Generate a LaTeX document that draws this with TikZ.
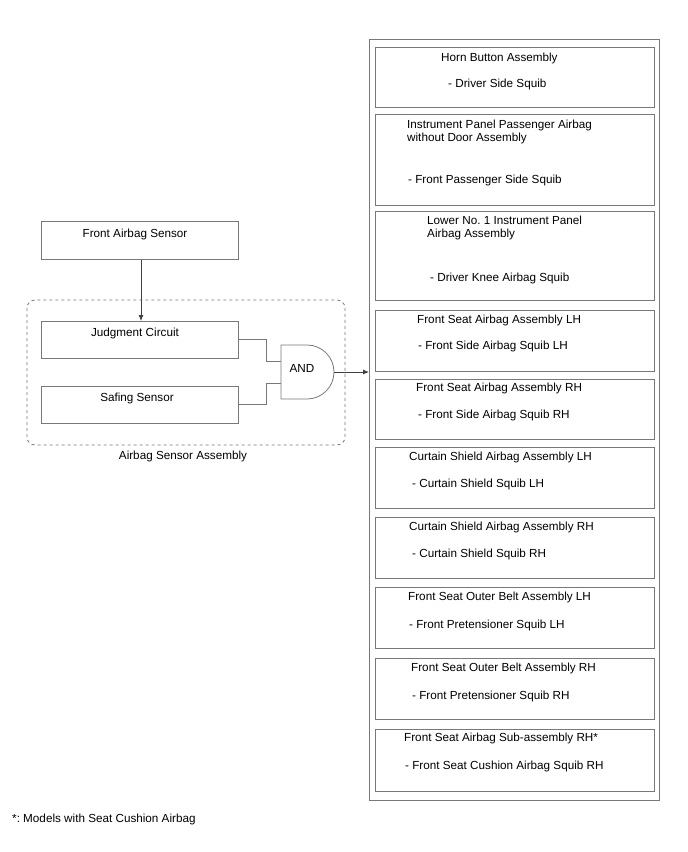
\documentclass[tikz,border=0pt]{standalone}
\usepackage{fontspec}
\setmainfont{Liberation Sans}
\usetikzlibrary{arrows.meta}
\definecolor{linecol}{RGB}{120,120,120}
\frenchspacing
\begin{document}
\begin{tikzpicture}[x=1pt,y=-1pt,
  box/.style={draw=linecol, line width=0.8pt, rectangle, inner sep=0pt, anchor=north west},
  txt/.style={anchor=base west, inner sep=0pt, font=\fontsize{11.7}{13}\selectfont},
  ctxt/.style={anchor=base, inner sep=0pt, font=\fontsize{11.7}{13}\selectfont},
  wire/.style={draw=linecol, line width=0.8pt},
  arr/.style={wire, -{Latex[length=6pt,width=5pt]}, draw=black!75}]
\useasboundingbox (0,0) rectangle (688,852);

% outer column
\node[box, minimum width=290pt, minimum height=761pt] (outer) at (369,39) {};
% inner boxes
\node[box, minimum width=279.5pt, minimum height=60pt] (b1) at (374.5,47) {};
\node[box, minimum width=279.5pt, minimum height=91pt] (b2) at (374.5,114) {};
\node[box, minimum width=279.5pt, minimum height=89pt] (b3) at (374.5,211) {};
\node[box, minimum width=279.5pt, minimum height=61pt] (b4) at (374.5,310) {};
\node[box, minimum width=279.5pt, minimum height=60pt] (b5) at (374.5,379) {};
\node[box, minimum width=279.5pt, minimum height=61pt] (b6) at (374.5,447) {};
\node[box, minimum width=279.5pt, minimum height=61pt] (b7) at (374.5,517) {};
\node[box, minimum width=279.5pt, minimum height=61pt] (b8) at (374.5,587) {};
\node[box, minimum width=279.5pt, minimum height=61pt] (b9) at (374.5,658) {};
\node[box, minimum width=279.5pt, minimum height=62pt] (b10) at (374.5,729) {};

% texts in boxes
\node[txt] (t1a) at (441,61) {Horn Button Assembly};
\node[txt] (t1b) at (448,87) {- Driver Side Squib};
\node[txt] (t2a) at (407,128) {Instrument Panel Passenger Airbag};
\node[txt] (t2b) at (407,141) {without Door Assembly};
\node[txt] (t2c) at (408,183) {- Front Passenger Side Squib};
\node[txt] (t3a) at (427,224) {Lower No. 1 Instrument Panel};
\node[txt] (t3b) at (427,237) {Airbag Assembly};
\node[txt] (t3c) at (430,281) {- Driver Knee Airbag Squib};
\node[txt] (t4a) at (417,323) {Front Seat Airbag Assembly LH};
\node[txt] (t4b) at (418,349) {- Front Side Airbag Squib LH};
\node[txt] (t5a) at (416,391) {Front Seat Airbag Assembly RH};
\node[txt] (t5b) at (418,418) {- Front Side Airbag Squib RH};
\node[txt] (t6a) at (409,460) {Curtain Shield Airbag Assembly LH};
\node[txt] (t6b) at (412,487) {- Curtain Shield Squib LH};
\node[txt] (t7a) at (409,530) {Curtain Shield Airbag Assembly RH};
\node[txt] (t7b) at (412,557) {- Curtain Shield Squib RH};
\node[txt] (t8a) at (408,600) {Front Seat Outer Belt Assembly LH};
\node[txt] (t8b) at (409,628) {- Front Pretensioner Squib LH};
\node[txt] (t9a) at (411,671) {Front Seat Outer Belt Assembly RH};
\node[txt] (t9b) at (412,699) {- Front Pretensioner Squib RH};
\node[txt] (t10a) at (404,741) {Front Seat Airbag Sub-assembly RH*};
\node[txt] (t10b) at (405,769) {- Front Seat Cushion Airbag Squib RH};

% left side
\node[box, minimum width=197pt, minimum height=38pt] (fas) at (41,221) {};
\node[ctxt] (fast) at (135,237) {Front Airbag Sensor};

\draw[draw=linecol, line width=0.8pt, dashed, rounded corners=8pt] (27,300) rectangle (345,445);
\node[ctxt] (asa) at (183,459) {Airbag Sensor Assembly};

\node[box, minimum width=197pt, minimum height=37pt] (jc) at (41,321) {};
\node[ctxt] (jct) at (135,336) {Judgment Circuit};
\node[box, minimum width=197pt, minimum height=37pt] (ss) at (41,386) {};
\node[ctxt] (sst) at (137,401) {Safing Sensor};

\draw[arr] (fas.south -| 141,0) -- (jc.north -| 141,0);

% AND gate
\draw[wire] (281,345) -- (307,345) arc[start angle=-90, end angle=90, radius=27] -- (281,399) -- cycle;
\coordinate (gin1) at (281,361);
\coordinate (gin2) at (281,383);
\coordinate (gout) at (334,372);
\node[ctxt] (andt) at (302,372) {AND};

\draw[wire] (jc.east |- 0,339) -| (266,361) -- (gin1);
\draw[wire] (ss.east |- 0,404) -| (266,383) -- (gin2);
\draw[arr] (gout) -- (gout -| outer.west);

\node[txt] (foot) at (12,822) {*: Models with Seat Cushion Airbag};
\end{tikzpicture}
\end{document}
